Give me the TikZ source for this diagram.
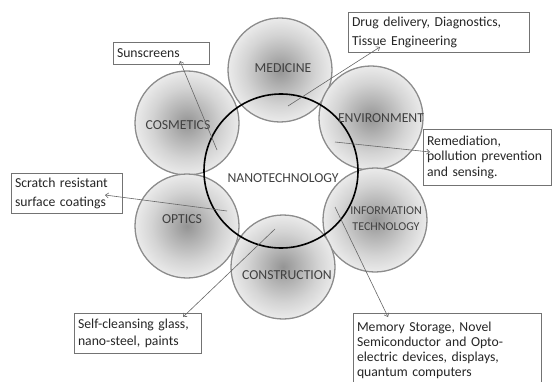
\documentclass[tikz,border=0pt]{standalone}
\usepackage{fontspec}
\setmainfont{Carlito}
\usetikzlibrary{arrows.meta}
\pgfdeclareradialshading{ballshade}{\pgfpoint{0bp}{0bp}}{color(0bp)=(black!42); color(8bp)=(black!30); color(17bp)=(black!17); color(25bp)=(black!8); color(50bp)=(black!8)}
\begin{document}
\begin{tikzpicture}[x=1pt,y=-1pt,
  ball/.style={circle, draw=black!45, line width=1.3pt, shading=ballshade, minimum size=104pt, inner sep=0pt},
  lab/.style={font=\fontsize{13.7}{16}\selectfont, text=black!75, align=center, inner sep=0pt},
  info/.style={draw=black!55, line width=0.6pt, fill=white, font=\fontsize{13.7}{16}\selectfont, text=black!85, align=left, inner xsep=4pt, inner ysep=0pt},
  conn/.style={draw=black!60, line width=0.6pt, -{Straight Barb[length=3pt,width=5pt]}}]
\useasboundingbox (0,0) rectangle (553,382);
\clip (0,0) rectangle (553,382);
% petals
\node[ball] (med) at (280,70) {};
\node[ball] (cos) at (187,123) {};
\node[ball] (env) at (371,118) {};
\node[ball] (opt) at (187,226) {};
\node[ball] (it)  at (375,220) {};
\node[ball] (con) at (283,267) {};
% central circle
\node[circle, draw=black, line width=1.6pt, minimum size=154pt, inner sep=0pt] (nano) at (281,171) {};
% labels
\node[lab] (medl) at (283,68) {MEDICINE};
\node[lab] (cosl) at (178,125) {COSMETICS};
\node[lab] (envl) at (381,118) {ENVIRONMENT};
\node[lab] (optl) at (182,219) {OPTICS};
\node[lab, font=\fontsize{12}{16}\selectfont] (itl) at (386,219) {INFORMATION\\TECHNOLOGY};
\node[lab] (conl) at (287,275) {CONSTRUCTION};
\node[lab] (nanol) at (283,178) {NANOTECHNOLOGY};
% boxes
\node[info, minimum width=96pt, minimum height=22pt, text width=88pt] (sun) at (161,53) {Sunscreens};
\node[info, minimum width=181pt, minimum height=40pt, text width=173pt, font=\fontsize{13.7}{19}\selectfont] (drug) at (438.5,32) {Drug delivery, Diagnostics,\\Tissue Engineering};
\node[info, minimum width=128pt, minimum height=56pt, text width=120pt, font=\fontsize{13.7}{15.5}\selectfont] (rem) at (487,157) {Remediation,\\pollution prevention\\and sensing.};
\node[info, minimum width=111pt, minimum height=40pt, text width=103pt, font=\fontsize{13.7}{19}\selectfont] (scr) at (66.5,193) {Scratch resistant\\surface coatings};
\node[info, minimum width=127pt, minimum height=40pt, text width=119pt, font=\fontsize{13.7}{17}\selectfont] (self) at (137.5,333) {Self-cleansing glass,\\nano-steel, paints};
\node[info, minimum width=188pt, minimum height=74pt, text width=180pt, anchor=north, font=\fontsize{13.7}{15}\selectfont, inner ysep=3pt] (mem) at (447,313) {Memory Storage, Novel\\Semiconductor and Opto-\\electric devices, displays,\\quantum computers};
% connector ends
\coordinate (cosA) at (217,150);
\coordinate (sunT) at (180,61);
\coordinate (medA) at (288,106);
\coordinate (drugT) at (380,47);
\coordinate (envA) at (335,142);
\coordinate (remT) at (430,152);
\coordinate (optA) at (227,211);
\coordinate (scrT) at (105,195);
\coordinate (conA) at (275,229);
\coordinate (selfT) at (183,317);
\coordinate (itA) at (335,207);
\coordinate (memT) at (388,317);
% connectors
\draw[conn] (cosA) -- (sunT);
\draw[conn] (medA) -- (drugT);
\draw[conn] (envA) -- (remT);
\draw[conn] (optA) -- (scrT);
\draw[conn] (conA) -- (selfT);
\draw[conn] (itA) -- (memT);
\end{tikzpicture}
\end{document}
